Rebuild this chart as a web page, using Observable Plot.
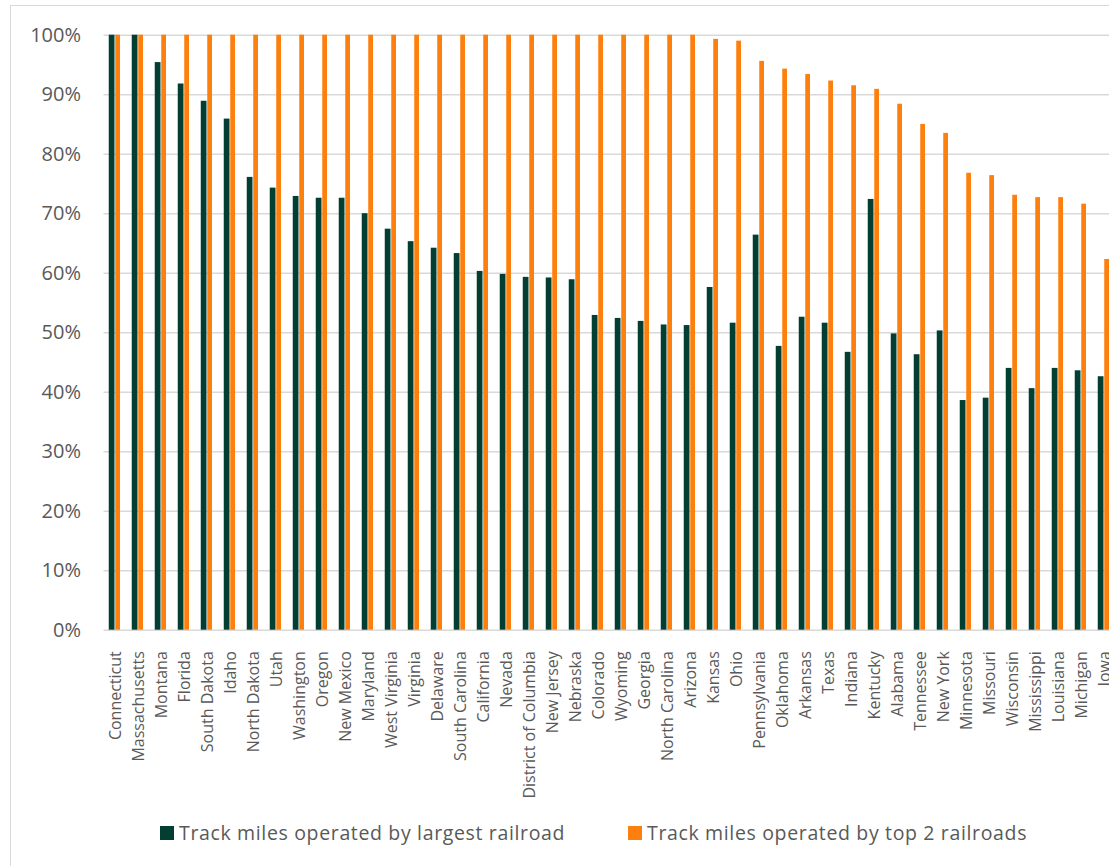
<!DOCTYPE html>
<html>
<head>
<meta charset="utf-8">
<script src="https://cdn.jsdelivr.net/npm/d3@7"></script>
<script src="https://cdn.jsdelivr.net/npm/@observablehq/plot@0.6"></script>
<style>
  html, body { margin: 0; padding: 0; background: #fff; overflow: hidden; }
  body { width: 1109px; height: 866px; position: relative; font-family: "Open Sans", sans-serif; }
  #frame { position: absolute; left: 10px; top: 5px; width: 1300px; height: 1000px;
           border-left: 1.5px solid #d9d9d9; border-top: 1.5px solid #d9d9d9; pointer-events: none; }
  #chart { position: absolute; left: 0; top: 0; width: 1120px; }
  #chart svg { display: block; max-width: none !important; }
  #legend { position: relative; height: 50px; }
  #legend .item { position: absolute; top: 14px; display: flex; align-items: center;
                  font-size: 19.5px; letter-spacing: 0.65px; color: #595959; white-space: nowrap; }
  #legend .swatch { width: 14px; height: 14px; margin-right: 5px; flex: none; }
</style>
</head>
<body>
<div id="frame"></div>
<div id="chart"></div>
<script>
// States, ordered by the share of track miles held by the top two railroads
const states = [
  "Connecticut", "Massachusetts", "Montana", "Florida", "South Dakota", "Idaho",
  "North Dakota", "Utah", "Washington", "Oregon", "New Mexico", "Maryland",
  "West Virginia", "Virginia", "Delaware", "South Carolina", "California", "Nevada",
  "District of Columbia", "New Jersey", "Nebraska", "Colorado", "Wyoming", "Georgia",
  "North Carolina", "Arizona", "Kansas", "Ohio", "Pennsylvania", "Oklahoma",
  "Arkansas", "Texas", "Indiana", "Kentucky", "Alabama", "Tennessee", "New York",
  "Minnesota", "Missouri", "Wisconsin", "Mississippi", "Louisiana", "Michigan", "Iowa"
];

// Share (%) of track miles operated by the largest railroad
const largestShare = [
  100, 100, 95.4, 91.8, 88.9, 85.9, 76.1, 74.3, 72.9, 72.6, 72.6, 70.0,
  67.4, 65.3, 64.2, 63.3, 60.3, 59.8, 59.3, 59.2, 58.9, 52.9, 52.4, 51.9,
  51.3, 51.2, 57.6, 51.6, 66.4, 47.7, 52.6, 51.6, 46.7, 72.4, 49.8, 46.3,
  50.3, 38.6, 39.0, 44.0, 40.6, 44.0, 43.6, 42.6
];

// Share (%) of track miles operated by the top 2 railroads
const top2Share = [
  100, 100, 100, 100, 100, 100, 100, 100, 100, 100, 100, 100,
  100, 100, 100, 100, 100, 100, 100, 100, 100, 100, 100, 100,
  100, 100, 99.3, 99.0, 95.6, 94.3, 93.4, 92.3, 91.5, 90.9, 88.4, 85.0,
  83.5, 76.8, 76.4, 73.1, 72.7, 72.7, 71.6, 62.3
];

const yTicks = [0, 10, 20, 30, 40, 50, 60, 70, 80, 90, 100];

const seriesNames = ["Track miles operated by largest railroad", "Track miles operated by top 2 railroads"];
const seriesColors = ["#023f32", "#fd7f0e"];

const rows = states.map((state, i) => ({state, largest: largestShare[i], top2: top2Share[i]}));

const chart = Plot.plot({
  width: 1120,
  height: 805,
  marginLeft: 103.5,
  marginRight: 4.5,
  marginTop: 34.7,
  marginBottom: 175.3,
  style: {fontFamily: "'Open Sans', sans-serif", color: "#595959", background: "transparent"},
  x: {domain: states, padding: 0},
  y: {domain: [0, 100]},
  marks: [
    Plot.gridY(yTicks, {stroke: "#d9d9d9", strokeOpacity: 1, strokeWidth: 1.6}),
    Plot.barY(rows, {x: "state", y: "largest", fill: seriesColors[0], insetLeft: 4.75, insetRight: 12.5}),
    Plot.barY(rows, {x: "state", y: "top2", fill: seriesColors[1], insetLeft: 11.25, insetRight: 7}),
    Plot.axisY({ticks: yTicks, tickFormat: d => d + "%", tickSize: 0, tickPadding: 23,
                fontSize: 20, label: null}),
    Plot.axisX({tickRotate: -90, tickSize: 0, tickPadding: 21, fontSize: 16, label: null})
  ]
});

const holder = document.getElementById("chart");
holder.appendChild(chart);

// Legend below the plot
const legend = document.createElement("div");
legend.id = "legend";
const legendLeft = [160, 628];
seriesNames.forEach((name, i) => {
  const item = document.createElement("div");
  item.className = "item";
  item.style.left = legendLeft[i] + "px";
  const sw = document.createElement("span");
  sw.className = "swatch";
  sw.style.background = seriesColors[i];
  const label = document.createElement("span");
  label.textContent = name;
  item.appendChild(sw);
  item.appendChild(label);
  legend.appendChild(item);
});
holder.appendChild(legend);
</script>
</body>
</html>
